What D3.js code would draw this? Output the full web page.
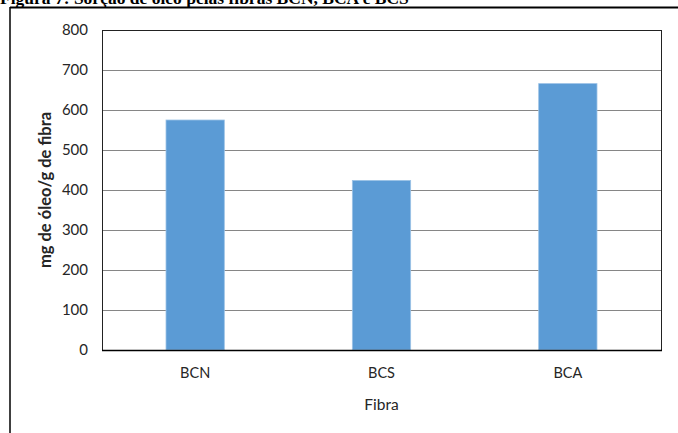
<!DOCTYPE html>
<html>
<head>
<meta charset="utf-8">
<script src="https://cdn.jsdelivr.net/npm/d3@7"></script>
<style>
  html, body { margin: 0; padding: 0; background: #fff; }
  svg { display: block; }
</style>
</head>
<body>
<svg id="chart" width="678" height="433"></svg>
<script>
const categories = ["BCN", "BCS", "BCA"];
const values = [575, 424, 666];
const yTicks = [0, 100, 200, 300, 400, 500, 600, 700, 800];
const caption = "Figura 7: Sorção de óleo pelas fibras BCN, BCA e BCS";
const yTitle = "mg de óleo/g de fibra";
const xTitle = "Fibra";

const svg = d3.select("#chart");
const W = 678, H = 433;
const plot = { left: 102, right: 661, top: 30, bottom: 350 };

// caption (cut by the top edge, as in the source page)
svg.append("text")
  .attr("x", 0).attr("y", 4)
  .attr("font-family", "Liberation Serif, Times New Roman, serif")
  .attr("font-weight", "bold")
  .attr("font-size", 17.5)
  .attr("fill", "#000")
  .text(caption);

// outer frame
svg.append("line").attr("x1", 10).attr("x2", W).attr("y1", 7.5).attr("y2", 7.5)
  .attr("stroke", "#000").attr("stroke-width", 2);
svg.append("line").attr("x1", 10).attr("x2", 10).attr("y1", 7).attr("y2", H)
  .attr("stroke", "#000").attr("stroke-width", 1.5);

const x = d3.scaleBand().domain(categories)
  .range([plot.left, plot.right]).paddingInner(0.687).paddingOuter(0.3435);
const y = d3.scaleLinear().domain([0, 800]).range([plot.bottom, plot.top]);

// gridlines
const grid = svg.append("g").attr("class", "grid")
  .attr("transform", `translate(${plot.left},0)`)
  .call(d3.axisLeft(y).tickValues(yTicks).tickSize(-(plot.right - plot.left)).tickFormat(""));
grid.select(".domain").remove();
grid.selectAll("line").attr("stroke", "#868686").attr("stroke-width", 1.2)
  .attr("shape-rendering", "crispEdges");

// bars
svg.append("g").selectAll("rect").data(values).join("rect")
  .attr("x", (d, i) => x(categories[i]))
  .attr("width", x.bandwidth())
  .attr("y", d => y(d))
  .attr("height", d => y(0) - y(d))
  .attr("fill", "#5B9BD5")
  .attr("stroke", "#9DC3E6")
  .attr("stroke-width", 0.8);

// plot border
svg.append("rect")
  .attr("x", plot.left + 0.5).attr("y", plot.top + 0.5)
  .attr("width", plot.right - plot.left).attr("height", plot.bottom - plot.top)
  .attr("fill", "none").attr("stroke", "#222").attr("stroke-width", 1)
  .attr("shape-rendering", "crispEdges");
svg.append("line").attr("x1", plot.left).attr("x2", plot.right + 1)
  .attr("y1", plot.bottom + 0.5).attr("y2", plot.bottom + 0.5)
  .attr("stroke", "#000").attr("stroke-width", 1.4);

const font = "Lato, 'Open Sans', sans-serif";

// y axis labels
const ya = svg.append("g").attr("transform", `translate(${plot.left},0)`)
  .call(d3.axisLeft(y).tickValues(yTicks).tickSize(0).tickPadding(14));
ya.select(".domain").remove();
ya.selectAll("text").attr("font-family", font).attr("font-size", 15).attr("fill", "#262626");

// x axis labels
const xa = svg.append("g").attr("transform", `translate(0,${plot.bottom})`)
  .call(d3.axisBottom(x).tickSize(0).tickPadding(18));
xa.select(".domain").remove();
xa.selectAll("text").attr("font-family", font).attr("font-size", 14.5).attr("fill", "#262626");

// titles
svg.append("text")
  .attr("x", (plot.left + plot.right) / 2).attr("y", 410)
  .attr("text-anchor", "middle")
  .attr("font-family", font).attr("font-size", 15.5).attr("fill", "#262626")
  .text(xTitle);

svg.append("text")
  .attr("transform", `translate(51,${(plot.top + plot.bottom) / 2}) rotate(-90)`)
  .attr("text-anchor", "middle")
  .attr("font-family", font).attr("font-weight", "bold").attr("font-size", 16.5).attr("fill", "#262626")
  .text(yTitle);
</script>
</body>
</html>
